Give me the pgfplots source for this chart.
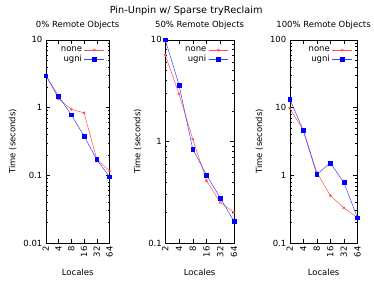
\documentclass[border=0pt]{standalone}
\usepackage{pgfplots}
\pgfplotsset{compat=1.18}
\usepackage{fontspec}
\setmainfont{DejaVu Sans}
\definecolor{cnone}{RGB}{255,80,80}
\definecolor{cugni}{RGB}{0,0,255}
\begin{document}
\begin{tikzpicture}
\path (0pt,0pt) rectangle (374pt,291pt);
\node[font=\fontsize{9.8}{11}\selectfont] at (187pt,280pt) {Pin-Unpin w/ Sparse tryReclaim};
\begin{axis}[at={(46pt,47pt)}, width=64pt, title={0\% Remote Objects},
  ymin=0.01, ymax=10, ytick={0.01,0.1,1,10}, yticklabels={0.01,0.1,1,10},
    scale only axis, height=204pt,
    anchor=south west,
    xmode=log, ymode=log, log basis x=2,
    xmin=2, xmax=64,
    xtick={2,4,8,16,32,64}, xticklabels={2,4,8,16,32,64},
    xminorticks=false,
    /pgf/number format/assume math mode=true,
    x tick label style={rotate=90, anchor=east},
    tick label style={font=\fontsize{8.5}{10}\selectfont},
    label style={font=\fontsize{8.5}{10}\selectfont},
    xlabel style={yshift=-5pt},
    title style={font=\fontsize{8.5}{10}\selectfont, yshift=1pt},
    xlabel={Locales}, ylabel={Time (seconds)},
    tick align=inside, tick style={black, thin},
    major tick length=4pt, minor tick length=2pt,
    legend style={draw=none, fill=none, at={(0.97,0.985)}, anchor=north east,
      font=\fontsize{8.5}{10}\selectfont, row sep=-2pt},
    legend image code/.code={\draw[mark repeat=2,mark phase=2,#1] plot coordinates {(0pt,0pt) (10pt,0pt) (20pt,0pt)};},
    legend cell align=right, legend plot pos=right]
\addplot[cnone, line width=0.5pt, mark=asterisk, mark size=1.5pt] coordinates {(2,3.05) (4,1.34) (8,0.94) (16,0.835) (32,0.172) (64,0.116)};
\addlegendentry{none}
\addplot[cugni!75, line width=0.5pt, mark=square*, mark size=1.9pt, mark options={fill=cugni, draw=cugni}] coordinates {(2,2.95) (4,1.47) (8,0.78) (16,0.38) (32,0.17) (64,0.095)};
\addlegendentry{ugni}
\end{axis}
\begin{axis}[at={(166pt,47pt)}, width=69pt, title={50\% Remote Objects},
  ymin=0.1, ymax=10, ytick={0.1,1,10}, yticklabels={0.1,1,10},
    scale only axis, height=204pt,
    anchor=south west,
    xmode=log, ymode=log, log basis x=2,
    xmin=2, xmax=64,
    xtick={2,4,8,16,32,64}, xticklabels={2,4,8,16,32,64},
    xminorticks=false,
    /pgf/number format/assume math mode=true,
    x tick label style={rotate=90, anchor=east},
    tick label style={font=\fontsize{8.5}{10}\selectfont},
    label style={font=\fontsize{8.5}{10}\selectfont},
    xlabel style={yshift=-5pt},
    title style={font=\fontsize{8.5}{10}\selectfont, yshift=1pt},
    xlabel={Locales}, ylabel={Time (seconds)},
    tick align=inside, tick style={black, thin},
    major tick length=4pt, minor tick length=2pt,
    legend style={draw=none, fill=none, at={(0.97,0.985)}, anchor=north east,
      font=\fontsize{8.5}{10}\selectfont, row sep=-2pt},
    legend image code/.code={\draw[mark repeat=2,mark phase=2,#1] plot coordinates {(0pt,0pt) (10pt,0pt) (20pt,0pt)};},
    legend cell align=right, legend plot pos=right]
\addplot[cnone, line width=0.5pt, mark=asterisk, mark size=1.5pt] coordinates {(2,7.1) (4,2.92) (8,1.05) (16,0.41) (32,0.25) (64,0.2)};
\addlegendentry{none}
\addplot[cugni!75, line width=0.5pt, mark=square*, mark size=1.9pt, mark options={fill=cugni, draw=cugni}] coordinates {(2,10) (4,3.6) (8,0.84) (16,0.467) (32,0.277) (64,0.164)};
\addlegendentry{ugni}
\end{axis}
\begin{axis}[at={(291pt,47pt)}, width=68pt, title={100\% Remote Objects},
  ymin=0.1, ymax=100, ytick={0.1,1,10,100}, yticklabels={0.1,1,10,100},
    scale only axis, height=204pt,
    anchor=south west,
    xmode=log, ymode=log, log basis x=2,
    xmin=2, xmax=64,
    xtick={2,4,8,16,32,64}, xticklabels={2,4,8,16,32,64},
    xminorticks=false,
    /pgf/number format/assume math mode=true,
    x tick label style={rotate=90, anchor=east},
    tick label style={font=\fontsize{8.5}{10}\selectfont},
    label style={font=\fontsize{8.5}{10}\selectfont},
    xlabel style={yshift=-5pt},
    title style={font=\fontsize{8.5}{10}\selectfont, yshift=1pt},
    xlabel={Locales}, ylabel={Time (seconds)},
    tick align=inside, tick style={black, thin},
    major tick length=4pt, minor tick length=2pt,
    legend style={draw=none, fill=none, at={(0.97,0.985)}, anchor=north east,
      font=\fontsize{8.5}{10}\selectfont, row sep=-2pt},
    legend image code/.code={\draw[mark repeat=2,mark phase=2,#1] plot coordinates {(0pt,0pt) (10pt,0pt) (20pt,0pt)};},
    legend cell align=right, legend plot pos=right]
\addplot[cnone, line width=0.5pt, mark=asterisk, mark size=1.5pt] coordinates {(2,9.8) (4,4.6) (8,1.1) (16,0.5) (32,0.33) (64,0.236)};
\addlegendentry{none}
\addplot[cugni!75, line width=0.5pt, mark=square*, mark size=1.9pt, mark options={fill=cugni, draw=cugni}] coordinates {(2,13.4) (4,4.6) (8,1.03) (16,1.52) (32,0.78) (64,0.236)};
\addlegendentry{ugni}
\end{axis}
\end{tikzpicture}
\end{document}
